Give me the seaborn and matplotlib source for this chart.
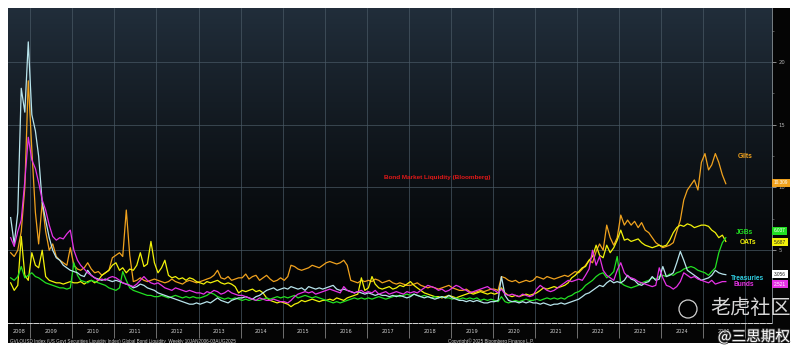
import numpy as np
import pandas as pd
import seaborn as sns
import matplotlib.pyplot as plt
import matplotlib.dates as mdates
from matplotlib.patches import Rectangle, Ellipse
import matplotlib.patheffects as pe

# monthly readings, Jul 2008 .. Jul 2025
months = pd.date_range('2008-07-01', '2025-07-01', freq='MS') + pd.Timedelta(days=14)

gilts = [4.8, 4.5, 5.0, 6.5, 10.0, 18.5,
         13.0, 8.0, 5.5, 8.8, 6.5, 5.0, 5.5, 4.5, 4.2, 4.0, 3.8, 5.2,
         3.8, 3.5, 3.4, 3.6, 4.0, 3.5, 3.2, 3.3, 3.0, 3.2, 3.4, 4.4,
         4.6, 4.8, 4.5, 8.2, 4.6, 2.5, 2.6, 2.8, 2.6, 2.5, 2.6, 2.7,
         2.6, 2.5, 2.4, 2.5, 2.7, 2.5, 2.4, 2.3, 2.5, 2.6, 2.5, 2.4,
         2.5, 2.6, 2.7, 2.8, 3.0, 3.4, 2.8, 2.7, 2.9, 2.6, 2.7, 2.8,
         2.8, 3.1, 2.7, 2.9, 3.0, 2.6, 2.8, 3.0, 2.7, 2.5, 2.6, 2.8,
         2.6, 2.9, 3.8, 3.7, 3.5, 3.4, 3.5, 3.6, 3.8, 3.7, 3.6, 3.8,
         4.0, 4.1, 4.0, 3.9, 4.0, 4.2, 3.8, 2.6, 2.5, 2.4, 2.6, 2.5,
         2.6, 2.5, 2.7, 2.6, 2.4, 2.5, 2.6, 2.4, 2.3, 2.4, 2.3, 2.2,
         2.2, 2.3, 2.4, 2.2, 2.1, 2.0, 2.1, 2.0, 1.9, 2.0, 2.1, 2.2,
         2.0, 1.9, 1.8, 1.8, 1.9, 1.7, 1.6, 1.7, 1.8, 1.7, 1.8, 1.9,
         1.9, 1.8, 2.9, 2.8, 2.6, 2.5, 2.6, 2.4, 2.5, 2.6, 2.5, 2.6,
         2.9, 2.8, 2.7, 2.9, 2.8, 2.7, 2.8, 2.9, 3.0, 2.9, 3.1, 3.3,
         3.2, 3.5, 3.8, 4.2, 4.0, 4.9, 5.5, 5.0, 7.0, 6.0, 5.4, 6.0,
         7.8, 7.0, 7.4, 7.0, 7.3, 6.8, 7.2, 6.6, 6.4, 6.0, 5.6, 5.4,
         5.2, 5.3, 5.4, 5.6, 6.5, 7.4, 9.0, 9.8, 10.2, 10.6, 9.8, 12.0,
         12.7, 11.4, 11.8, 12.7, 12.0, 11.0, 10.3]

oats = [2.4, 1.8, 2.2, 6.1, 3.0, 2.6,
        4.8, 3.8, 3.6, 5.0, 2.9, 2.6, 2.5, 2.4, 2.4, 2.3, 2.4, 2.5,
        2.4, 2.4, 2.5, 2.3, 2.5, 2.6, 2.4, 2.6, 3.0, 3.2, 3.4, 3.8,
        4.0, 3.4, 3.6, 3.2, 3.5, 3.4, 3.8, 4.8, 3.7, 3.9, 5.7, 4.0,
        3.2, 3.6, 4.2, 3.0, 2.8, 2.9, 2.7, 2.8, 2.6, 2.8, 2.7, 2.5,
        2.4, 2.3, 2.5, 2.4, 2.5, 2.6, 2.4, 2.3, 2.4, 2.3, 2.1, 1.6,
        1.8, 1.7, 1.8, 1.9, 1.7, 1.8, 1.6, 1.2, 1.0, 0.9, 0.8, 0.9,
        0.8, 0.7, 0.5, 0.7, 0.8, 1.0, 0.9, 1.0, 1.1, 1.0, 0.9, 1.0,
        1.0, 1.1, 1.0, 1.2, 1.1, 1.0, 1.2, 1.3, 1.4, 1.5, 2.8, 1.8,
        2.0, 2.9, 2.3, 2.0, 1.9, 2.0, 2.1, 1.9, 2.0, 2.2, 2.1, 2.3,
        2.5, 2.2, 2.0, 1.8, 1.6, 1.5, 1.4, 1.3, 1.3, 1.2, 1.3, 1.4,
        1.3, 1.2, 1.3, 1.4, 1.5, 1.6, 1.5, 1.6, 1.7, 1.6, 1.5, 1.6,
        1.5, 1.6, 2.0, 1.6, 1.4, 1.3, 1.4, 1.3, 1.4, 1.5, 1.4, 1.5,
        1.6, 1.8, 2.0, 1.9, 2.0, 2.1, 2.0, 2.1, 2.2, 2.4, 2.8, 3.0,
        3.3, 3.6, 3.7, 4.2, 4.5, 5.4, 4.6, 4.4, 5.4, 4.8, 5.2, 5.8,
        6.6, 5.8, 5.9, 5.7, 5.8, 5.9, 5.6, 5.4, 5.3, 5.2, 5.3, 5.4,
        5.3, 5.4, 5.8, 6.4, 6.8, 7.0, 6.9, 7.1, 7.0, 6.8, 6.9, 7.0,
        7.0, 6.9, 6.6, 6.4, 6.0, 6.2, 5.7]

jgbs = [2.8, 2.6, 2.9, 3.7, 2.8, 3.0,
        3.2, 2.9, 2.8, 2.6, 2.4, 2.3, 2.2, 2.1, 2.0, 2.0, 1.9, 2.0,
        4.0, 3.0, 2.6, 2.5, 2.4, 2.6, 2.5, 2.4, 2.3, 2.2, 2.0, 1.9,
        1.8, 2.0, 3.3, 2.6, 2.0, 1.8, 1.7, 1.6, 1.5, 1.4, 1.4, 1.3,
        1.3, 1.4, 1.3, 1.2, 1.3, 1.4, 1.3, 1.2, 1.3, 1.2, 1.3, 1.2,
        1.2, 1.3, 1.4, 1.6, 1.5, 1.3, 1.2, 1.1, 1.2, 1.1, 1.2, 1.1,
        1.0, 1.1, 1.0, 1.1, 1.0, 1.0, 1.1, 1.2, 1.1, 1.2, 1.3, 1.2,
        1.3, 1.2, 1.3, 1.4, 1.2, 1.3, 1.4, 1.3, 1.2, 1.3, 1.2, 1.1,
        1.0, 0.9, 0.8, 0.9, 0.8, 0.9, 1.0, 1.1, 1.2, 1.1, 1.2, 1.1,
        1.2, 1.1, 1.2, 1.3, 1.2, 1.1, 1.2, 1.3, 1.4, 1.3, 1.4, 1.5,
        1.4, 1.5, 1.4, 1.3, 1.4, 1.3, 1.2, 1.3, 1.2, 1.3, 1.2, 1.2,
        1.1, 1.2, 1.1, 1.2, 1.1, 1.2, 1.1, 1.2, 1.0, 1.1, 1.0, 1.1,
        1.0, 0.9, 1.3, 0.9, 0.8, 0.9, 1.0, 0.9, 1.0, 1.1, 1.0, 1.0,
        1.1, 1.0, 1.1, 1.2, 1.1, 1.2, 1.1, 1.2, 1.1, 1.3, 1.4, 1.6,
        1.7, 1.9, 2.2, 2.4, 2.6, 2.9, 3.1, 3.2, 2.8, 3.0, 3.3, 4.5,
        2.4, 2.2, 2.1, 2.0, 2.1, 2.2, 2.4, 2.5, 2.6, 2.8, 2.7, 2.9,
        3.0, 2.9, 3.1, 3.0, 3.2, 3.3, 3.5, 3.6, 3.7, 3.6, 3.4, 3.3,
        3.2, 3.0, 3.3, 3.6, 4.8, 5.6, 6.0]

treasuries = [7.6, 5.5, 8.0, 17.9, 16.0, 21.6,
              15.8, 14.5, 12.5, 8.8, 7.4, 6.0, 5.0, 4.4, 4.2, 3.8, 3.6, 3.4,
              3.3, 3.2, 3.0, 2.9, 3.4, 3.0, 2.8, 2.7, 2.6, 2.7, 2.6, 2.5,
              2.6, 2.5, 2.4, 2.3, 2.2, 2.0, 2.1, 2.3, 2.2, 2.0, 1.9, 1.8,
              1.6, 1.5, 1.4, 1.3, 1.2, 1.1, 1.0, 0.9, 0.8, 0.7, 0.7, 0.8,
              0.7, 0.8, 0.9, 0.8, 1.0, 1.2, 1.0, 0.9, 0.8, 1.0, 1.1, 1.2,
              1.2, 1.3, 1.2, 1.1, 1.3, 1.4, 1.6, 1.8, 1.9, 2.0, 1.8, 1.9,
              2.0, 1.9, 2.1, 2.0, 1.9, 2.0, 1.8, 2.1, 2.0, 1.9, 2.0, 1.9,
              2.0, 2.1, 2.2, 1.9, 1.8, 1.9, 1.8, 1.7, 1.6, 1.7, 1.6, 1.5,
              1.6, 1.5, 1.4, 1.5, 1.4, 1.4, 1.3, 1.4, 1.3, 1.4, 1.3, 1.2,
              1.3, 1.5, 1.4, 1.3, 1.2, 1.3, 1.2, 1.1, 1.2, 1.3, 1.2, 1.4,
              1.2, 1.1, 1.0, 1.0, 0.9, 1.0, 0.9, 1.0, 0.9, 0.8, 0.8, 0.9,
              0.9, 1.0, 2.9, 1.4, 1.0, 0.9, 0.9, 0.8, 0.9, 0.8, 0.9, 0.8,
              0.8, 0.7, 0.8, 0.7, 0.6, 0.7, 0.7, 0.8, 0.7, 0.8, 0.9, 1.0,
              1.1, 1.3, 1.5, 1.6, 1.8, 2.0, 2.2, 2.1, 2.4, 2.6, 2.4, 2.5,
              2.4, 2.6, 3.0, 2.7, 2.6, 2.3, 2.2, 2.4, 2.5, 2.9, 2.6, 2.7,
              3.7, 2.9, 3.0, 3.2, 4.0, 4.9, 4.2, 3.4, 3.2, 3.0, 2.8, 2.6,
              2.7, 2.8, 3.0, 3.4, 3.2, 3.1, 3.05]

bunds = [6.0, 5.3, 6.5, 7.4, 10.5, 14.0,
         12.2, 11.5, 10.4, 9.0, 8.2, 7.0, 6.1, 5.8, 6.0, 5.9, 6.3, 6.6,
         5.0, 4.2, 3.8, 3.5, 3.2, 3.0, 2.8, 2.6, 2.7, 2.6, 2.8, 2.9,
         2.8, 2.6, 2.4, 2.3, 2.2, 2.1, 2.3, 2.6, 2.9, 2.6, 2.4, 2.3,
         2.4, 2.2, 2.0, 1.9, 1.8, 2.0, 1.9, 1.8, 1.7, 1.8, 1.7, 1.6,
         1.6, 1.5, 1.7, 1.6, 1.8, 1.7, 1.5, 1.6, 1.8, 1.6, 1.5, 1.4,
         1.4, 1.3, 1.2, 1.1, 1.0, 1.2, 1.1, 1.0, 1.0, 1.1, 1.0, 0.9,
         0.9, 0.8, 1.0, 1.3, 1.5, 1.6, 1.7, 1.6, 1.7, 1.5, 1.6, 1.7,
         1.8, 1.9, 1.8, 1.7, 1.6, 2.1, 1.8, 1.7, 1.6, 1.7, 1.8, 1.6,
         1.7, 1.6, 1.8, 1.5, 1.6, 1.7, 1.5, 1.6, 1.7, 1.6, 1.5, 1.7,
         1.6, 1.7, 1.6, 1.8, 2.0, 2.2, 2.1, 2.0, 1.8, 1.9, 1.7, 1.8,
         2.0, 2.2, 2.1, 1.9, 1.8, 1.6, 1.7, 1.8, 1.9, 2.0, 2.1, 1.9,
         1.8, 1.6, 1.9, 1.5, 1.4, 1.5, 1.4, 1.3, 1.5, 1.4, 1.3, 1.4,
         1.9, 2.2, 2.0, 1.8, 1.7, 1.8, 2.0, 2.2, 2.4, 2.6, 2.5, 2.6,
         2.7, 2.6, 3.0, 3.5, 5.0, 3.8, 4.5, 3.4, 3.0, 2.8, 2.6, 3.4,
         4.0, 3.2, 2.9, 2.8, 2.7, 2.5, 2.4, 2.3, 2.2, 2.1, 2.2, 3.6,
         2.8, 2.2, 2.1, 1.9, 2.1, 2.5, 3.2, 3.0, 2.8, 2.9, 2.7, 2.6,
         2.5, 2.4, 2.6, 2.3, 2.4, 2.5, 2.5]

series_names = ['Gilts', 'OATs', 'JGBs', 'Treasuries', 'Bunds']
series_vals = [gilts, oats, jgbs, treasuries, bunds]
colors = {'Gilts': '#f0a21e', 'OATs': '#f2f20a', 'JGBs': '#22e022',
          'Treasuries': '#b8e4ec', 'Bunds': '#e632e6'}
last_labels = ['10.309', '5.687', '6.037', '3.056', '2.521']
year_labels = [str(y) for y in range(2008, 2026)]

df = pd.concat([pd.DataFrame({'date': months, 'value': v, 'series': n})
                for n, v in zip(series_names, series_vals)])

W, H = 806, 358
fig = plt.figure(figsize=(W / 100, H / 100), dpi=100)
fig.patch.set_facecolor('white')
# black panel of the terminal screen, behind the axes
fig.patches.append(Rectangle((8 / W, 1 - 343 / H), (790 - 8) / W, (343 - 8) / H,
                             transform=fig.transFigure, fc='#050505', ec='none', zorder=-5))

ax = fig.add_axes([8 / W, 1 - 323 / H, (772 - 8) / W, (323 - 8) / H])
ax.set_facecolor('none')

# top-to-bottom gradient background
grad = np.linspace(0, 1, 256).reshape(-1, 1)
top = np.array([0.13, 0.18, 0.23])
img = top[None, None, :] * (1 - grad[:, :, None]) ** 1.3
ax.imshow(img, extent=[0, 1, 0, 1], transform=ax.transAxes, aspect='auto', zorder=0)

sns.lineplot(data=df, x='date', y='value', hue='series', palette=colors,
             hue_order=series_names, legend=False, linewidth=0.9, ax=ax, zorder=3)

ax.set_xlim(pd.Timestamp('2008-06-22'), pd.Timestamp('2026-08-20'))
ax.set_ylim(-0.8, 24.3)
ax.set_xlabel('')
ax.set_ylabel('')

ax.grid(True, which='major', color='#4a5a66', linewidth=0.6, alpha=0.8, zorder=1)

# x axis: years as separators, labels mid-year (2008 centred on its visible part)
ax.xaxis.set_major_locator(mdates.YearLocator())
ax.xaxis.set_major_formatter(plt.NullFormatter())
label_dates = [pd.Timestamp('2008-09-25')] + [pd.Timestamp(f'{y}-07-01') for y in range(2009, 2026)]
ax.set_xticks(label_dates, minor=True)
ax.set_xticklabels(year_labels, minor=True)
ax.tick_params(axis='x', which='major', length=11, width=0.5, color='#9a9a9a', direction='out')
ax.tick_params(axis='x', which='minor', length=0, labelsize=3.6, labelcolor='#d0d0d0', pad=4)

# y axis on the right
ax.yaxis.tick_right()
ax.set_yticks([5, 10, 15, 20])
ax.set_yticks(np.arange(2.5, 24, 5), minor=True)
ax.tick_params(axis='y', which='major', length=3, width=0.5, color='#c0c0c0',
               labelsize=3.8, labelcolor='#b0b0b0', pad=1.5)
ax.tick_params(axis='y', which='minor', length=1.5, width=0.4, color='#909090')

for s in ['top', 'left']:
    ax.spines[s].set_visible(False)
ax.spines['right'].set_color('#8a949a')
ax.spines['right'].set_linewidth(0.6)
ax.spines['bottom'].set_color('#d8d8d8')
ax.spines['bottom'].set_linewidth(0.7)
ax.spines['bottom'].set_linestyle((0, (5, 1.5)))


def axfrac(px, py):
    return (px - 8) / (772 - 8), (323 - py) / (323 - 8)


# chart title
tx, ty = axfrac(437, 178)
ax.text(tx, ty, 'Bond Market Liquidity (Bloomberg)', transform=ax.transAxes,
        ha='center', va='center', color='#e01818', fontsize=4.6, fontweight='bold',
        family='Liberation Sans', zorder=5)

# series names
name_pos = {'Gilts': (738, 157, '#f0a21e'), 'JGBs': (736, 233, '#22e022'),
            'OATs': (740, 243, '#f2f20a'), 'Treasuries': (731, 278, '#30cde0'),
            'Bunds': (733, 284, '#e632e6')}
for n, (px, py, c) in name_pos.items():
    x, y = axfrac(px, py)
    ax.text(x, y, n, transform=ax.transAxes, ha='left', va='center', color=c,
            fontsize=4.8, fontweight='bold', family='Liberation Sans', zorder=5)

# last-value tags on the right axis
tag_pos = {'Gilts': 183, 'JGBs': 231, 'OATs': 242, 'Treasuries': 274, 'Bunds': 284}
tag_text_col = {'Gilts': '#ffffff', 'JGBs': '#ffffff', 'OATs': '#222222',
                'Treasuries': '#222222', 'Bunds': '#ffffff'}
for n, lab in zip(series_names, last_labels):
    x, y = axfrac(774, tag_pos[n])
    fc = '#ffffff' if n == 'Treasuries' else colors[n]
    ax.text(x, y, lab, transform=ax.transAxes, ha='left', va='center',
            color=tag_text_col[n], fontsize=3.4, family='Liberation Sans',
            bbox=dict(boxstyle='square,pad=0.35', fc=fc, ec='none'), clip_on=False, zorder=6)

# footer
fig.text(10 / W, 1 - 341 / H,
         'GVLQUSD Index (US Govt Securities Liquidity Index) Global Bond Liquidity  Weekly 10JAN2006-03AUG2025',
         fontsize=3.3, color='#d0d0d0', va='center', ha='left', family='Liberation Sans')
fig.text(448 / W, 1 - 341 / H, 'Copyright\u00a9 2025 Bloomberg Finance L.P.',
         fontsize=3.3, color='#d0d0d0', va='center', ha='left', family='Liberation Sans')

# watermark
fig.patches.append(Ellipse((688 / W, 1 - 309 / H), 18 / W, 18 / H, transform=fig.transFigure,
                           fill=False, ec='#d0d0d0', lw=0.9, zorder=7))
fig.text(751 / W, 1 - 309 / H, '老虎社区', fontsize=14.5, color='#d8d8d8',
         ha='center', va='center', family=['Noto Sans CJK SC', 'DejaVu Sans'], zorder=8)
fig.text(754 / W, 1 - 337 / H, '@三思期权', fontsize=10.5, color='#ffffff',
         ha='center', va='center', family=['Noto Sans CJK SC', 'DejaVu Sans'], zorder=8,
         path_effects=[pe.withStroke(linewidth=1.2, foreground='#404040')])

fig.savefig('out.png', dpi=100, facecolor=fig.get_facecolor())
